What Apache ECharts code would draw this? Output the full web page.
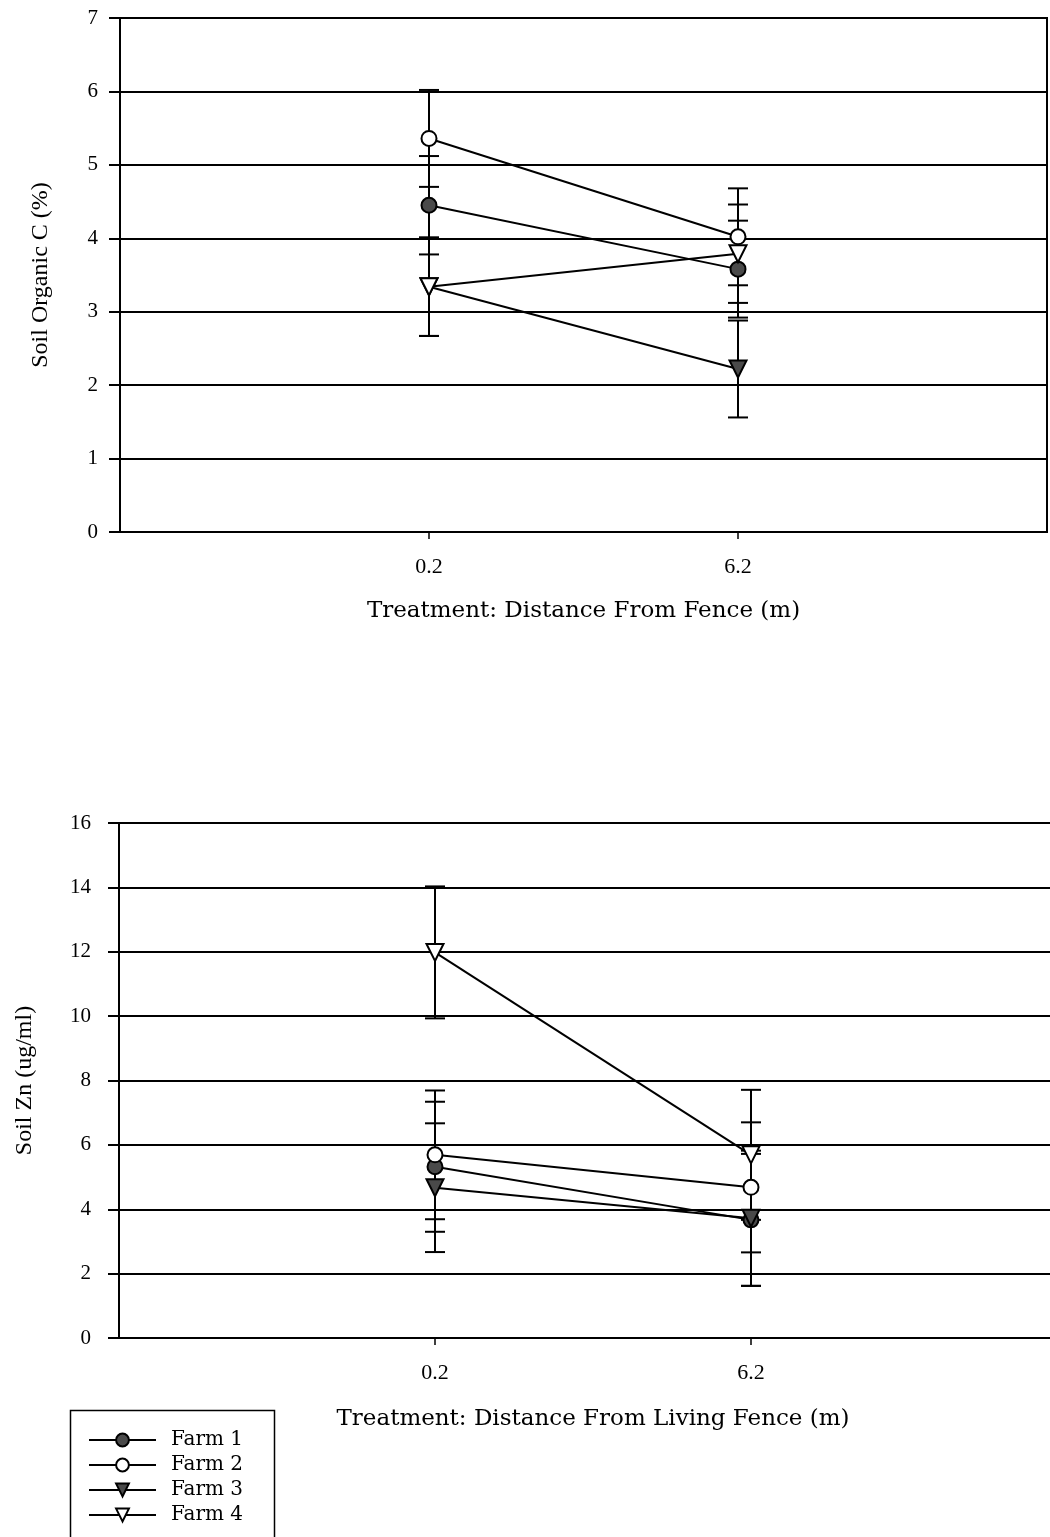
<!DOCTYPE html>
<html>
<head>
<meta charset="utf-8">
<script src="https://cdn.jsdelivr.net/npm/echarts@6/dist/echarts.min.js"></script>
<style>
html,body{margin:0;padding:0;background:#fff;}
#chart{width:1050px;height:1537px;}
</style>
</head>
<body>
<div id="chart"></div>
<script>
// ---- data ----
const distances = ['0.2', '6.2'];
const farms = ['Farm 1', 'Farm 2', 'Farm 3', 'Farm 4'];

// Soil organic C (%) : means and error half-widths at 0.2 m and 6.2 m
const carbonFarm1 = [4.45, 3.58];
const carbonFarm2 = [5.36, 4.02];
const carbonFarm3 = [3.34, 2.22];
const carbonFarm4 = [3.34, 3.79];
const carbonErrFarm1 = [0.67, 0.66];
const carbonErrFarm2 = [0.66, 0.66];
const carbonErrFarm3 = [0.67, 0.66];
const carbonErrFarm4 = [0.67, 0.67];

// Soil Zn (ug/ml)
const zincFarm1 = [5.32, 3.67];
const zincFarm2 = [5.69, 4.68];
const zincFarm3 = [4.67, 3.72];
const zincFarm4 = [11.98, 5.69];
const zincErrFarm1 = [2.02, 2.05];
const zincErrFarm2 = [2.0, 2.02];
const zincErrFarm3 = [2.0, 2.1];
const zincErrFarm4 = [2.05, 2.02];

const carbonTicks = [0, 1, 2, 3, 4, 5, 6, 7];
const zincTicks = [0, 2, 4, 6, 8, 10, 12, 14, 16];

// ---- chart build ----
const categories = [''].concat(distances, ['']);
const carbonMeans = [carbonFarm1, carbonFarm2, carbonFarm3, carbonFarm4];
const carbonErrs = [carbonErrFarm1, carbonErrFarm2, carbonErrFarm3, carbonErrFarm4];
const zincMeans = [zincFarm1, zincFarm2, zincFarm3, zincFarm4];
const zincErrs = [zincErrFarm1, zincErrFarm2, zincErrFarm3, zincErrFarm4];

const markerStyles = [
  {symbol: 'circle', rotate: 0, fill: '#4a4a4a', size: 15},
  {symbol: 'circle', rotate: 0, fill: '#ffffff', size: 15},
  {symbol: 'triangle', rotate: 180, fill: '#4a4a4a', size: 17},
  {symbol: 'triangle', rotate: 180, fill: '#ffffff', size: 17}
];

const SERIF = 'Liberation Serif';
const WIDE = 'DejaVu Serif';

function errRender(params, api) {
  const x = api.value(0), lo = api.value(1), hi = api.value(2);
  const pH = api.coord([x, hi]);
  const pL = api.coord([x, lo]);
  const w = 10;
  const st = {stroke: '#000', lineWidth: 2};
  return {
    type: 'group',
    children: [
      {type: 'line', shape: {x1: pH[0], y1: pH[1], x2: pL[0], y2: pL[1]}, style: st},
      {type: 'line', shape: {x1: pH[0] - w, y1: pH[1], x2: pH[0] + w, y2: pH[1]}, style: st},
      {type: 'line', shape: {x1: pL[0] - w, y1: pL[1], x2: pL[0] + w, y2: pL[1]}, style: st}
    ]
  };
}

const series = [];
function addPanel(idx, means, errs) {
  means.forEach(function (vals, f) {
    const ms = markerStyles[f];
    series.push({
      name: farms[f],
      type: 'line',
      xAxisIndex: idx,
      yAxisIndex: idx,
      z: 5,
      symbol: ms.symbol,
      symbolRotate: ms.rotate,
      symbolSize: ms.size,
      showAllSymbol: true,
      lineStyle: {color: '#000', width: 2},
      itemStyle: {color: ms.fill, borderColor: '#000', borderWidth: 2},
      emphasis: {disabled: true},
      animation: false,
      data: vals.map(function (v, i) { return [i + 1, v]; })
    });
    series.push({
      name: 'err ' + idx + ' ' + farms[f],
      type: 'custom',
      xAxisIndex: idx,
      yAxisIndex: idx,
      z: 2,
      renderItem: errRender,
      encode: {x: 0, y: [1, 2]},
      animation: false,
      data: vals.map(function (v, i) { return [i + 1, v - errs[f][i], v + errs[f][i]]; })
    });
  });
}
addPanel(0, carbonMeans, carbonErrs);
addPanel(1, zincMeans, zincErrs);

function xAxisCfg(idx, title, gap) {
  return {
    type: 'category',
    gridIndex: idx,
    data: categories,
    boundaryGap: false,
    axisLine: {show: true, lineStyle: {color: '#000', width: 2}},
    axisTick: {show: true, length: 7, lineStyle: {color: '#000', width: 1.5},
      interval: function (i) { return i === 1 || i === 2; }},
    axisLabel: {show: true, color: '#000', fontFamily: SERIF, fontSize: 22, margin: 24, interval: 0},
    splitLine: {show: false},
    name: title,
    nameLocation: 'middle',
    nameGap: gap,
    nameTextStyle: {color: '#000', fontFamily: WIDE, fontSize: 23}
  };
}
function yAxisCfg(idx, ticks, title, gap, labelMargin) {
  return {
    type: 'value',
    gridIndex: idx,
    min: ticks[0],
    max: ticks[ticks.length - 1],
    interval: ticks[1] - ticks[0],
    axisLine: {show: true, lineStyle: {color: '#000', width: 2}},
    axisTick: {show: true, inside: false, length: 11, lineStyle: {color: '#000', width: 2}},
    axisLabel: {color: '#000', fontFamily: SERIF, fontSize: 21, margin: labelMargin},
    splitLine: {show: true, lineStyle: {color: '#000', width: 2}},
    name: title,
    nameLocation: 'middle',
    nameGap: gap,
    nameTextStyle: {color: '#000', fontFamily: SERIF, fontSize: 24}
  };
}

const option = {
  backgroundColor: '#fff',
  animation: false,
  grid: [
    {left: 120, top: 18, width: 927, height: 514, show: true, borderColor: '#000', borderWidth: 2,
     backgroundColor: 'transparent', outerBoundsMode: 'none', containLabel: false},
    {left: 119, top: 823, width: 948, height: 515, outerBoundsMode: 'none', containLabel: false}
  ],
  xAxis: [
    xAxisCfg(0, 'Treatment: Distance From Fence (m)', 68),
    xAxisCfg(1, 'Treatment: Distance From Living Fence (m)', 70)
  ],
  yAxis: [
    yAxisCfg(0, carbonTicks, 'Soil Organic C (%)', 67, 22),
    yAxisCfg(1, zincTicks, 'Soil Zn (ug/ml)', 82, 28)
  ],
  legend: {
    data: farms,
    orient: 'vertical',
    left: 68,
    top: 1408,
    padding: [22, 0, 0, 20],
    itemWidth: 67,
    itemHeight: 16,
    itemGap: 5,
    selectedMode: false,
    textStyle: {color: '#000', fontFamily: WIDE, fontSize: 20, lineHeight: 20, padding: [0, 0, 0, 10]}
  },
  graphic: [{
    type: 'rect',
    left: 68,
    top: 1408,
    shape: {width: 204, height: 200},
    style: {fill: 'none', stroke: '#000', lineWidth: 1.5},
    silent: true
  }],
  series: series
};

const chart = echarts.init(document.getElementById('chart'), null, {renderer: 'canvas'});
chart.setOption(option);
</script>
</body>
</html>
